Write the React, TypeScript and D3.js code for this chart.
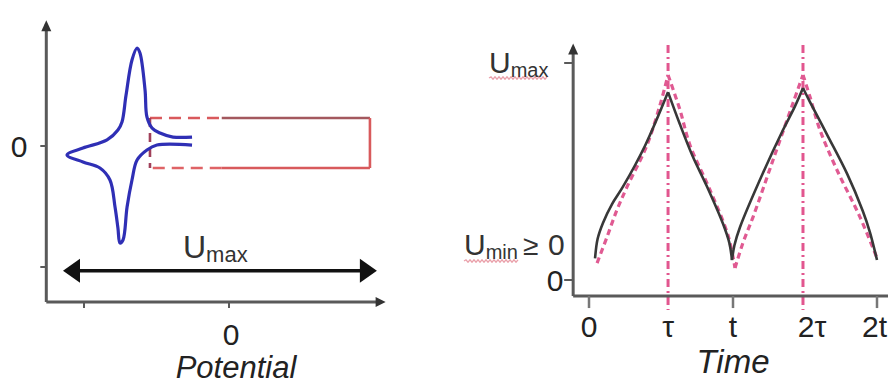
import React from "react";
import * as d3 from "d3";

const W = 888;
const H = 385;

// ---- Left panel: cyclic voltammogram vs. galvanostatic window ----
const cvPotential = [
  -0.255, -0.386, -0.476, -0.531, -0.566, -0.579, -0.614, -0.634, -0.669, -0.71,
  -0.738, -0.766, -0.841, -1.007, -1.117, -1.007, -0.89, -0.821, -0.786, -0.766,
  -0.752, -0.731, -0.703, -0.669, -0.634, -0.566, -0.497, -0.255,
];
const cvCurrent = [
  0.074, 0.074, 0.107, 0.149, 0.24, 0.463, 0.769, 0.81, 0.711, 0.421,
  0.198, 0.132, 0.05, -0.017, -0.074, -0.132, -0.182, -0.281, -0.504, -0.678,
  -0.802, -0.777, -0.504, -0.281, -0.116, -0.033, 0.008, 0.008,
];
// rectangle: left edge, dash/solid split, right edge (potential); top, bottom (current)
const rectPotential = [-0.545, -0.05, 0.972];
const rectCurrent = [0.231, -0.182];
// U_max span arrow
const spanPotential = [-1.145, 1.02];
const spanCurrent = -1.03;
const potentialTicks = [-1, 0];
const potentialTickLabels = ["", "0"];
const currentTicks = [0, -1];
const currentTickLabels = ["0", ""];
const potentialExtent = [-1.26, 1.08];
const currentExtent = [-1.29, 1.04];

// ---- Right panel: voltage vs. time ----
const timeTicks = [0, 0.549, 1, 1.486, 2];
const timeTickLabels = ["0", "τ", "t", "2τ", "2t"];
const voltageTicks = [0, 1];
const timeExtent = [-0.11, 2.09];
const voltageExtent = [-0.074, 1.09];

const measuredT = [
  0.042, 0.06, 0.097, 0.16, 0.236, 0.39, 0.549,
  0.63, 0.72, 0.82, 0.93, 0.975, 0.993,
  1.01, 1.049, 1.208, 1.347, 1.43, 1.486,
  1.535, 1.653, 1.792, 1.9, 1.951, 2.0,
];
const measuredU = [
  0.1, 0.19, 0.263, 0.35, 0.43, 0.62, 0.866,
  0.72, 0.57, 0.43, 0.26, 0.17, 0.092,
  0.16, 0.244, 0.493, 0.691, 0.8, 0.885,
  0.82, 0.67, 0.49, 0.32, 0.22, 0.092,
];
const idealT = [
  0.056, 0.125, 0.194, 0.264, 0.403, 0.493, 0.549,
  0.632, 0.701, 0.84, 0.965, 1.014,
  1.069, 1.139, 1.278, 1.417, 1.486,
  1.535, 1.604, 1.722, 1.882, 2.0,
];
const idealU = [
  0.078, 0.198, 0.323, 0.429, 0.622, 0.806, 0.945,
  0.783, 0.622, 0.415, 0.207, 0.055,
  0.171, 0.29, 0.553, 0.816, 0.945,
  0.843, 0.691, 0.507, 0.29, 0.101,
];
const halfPeriods = [0.549, 1.486];

// scales
const xL = d3.scaleLinear().domain([-1, 0]).range([84, 229]);
const yL = d3.scaleLinear().domain([-1, 0]).range([267, 146]);
const xR = d3.scaleLinear().domain([0, 2]).range([589, 877]);
const yR = d3.scaleLinear().domain([0, 1]).range([280, 63]);

type P = [number, number];

// break a sampled triangle wave into monotone pieces at its turning points
function splitAtTurns(t: number[], u: number[]): P[][] {
  const segs: P[][] = [];
  let cur: P[] = [[t[0], u[0]]];
  for (let i = 1; i < t.length; i++) {
    cur.push([t[i], u[i]]);
    if (i < t.length - 1 && (u[i] - u[i - 1]) * (u[i + 1] - u[i]) < 0) {
      segs.push(cur);
      cur = [[t[i], u[i]]];
    }
  }
  segs.push(cur);
  return segs;
}

const AXIS = "#5a5a5a";
const FONT = "'Liberation Sans', Arial, sans-serif";

function wavy(x0: number, x1: number, y: number): string {
  const p = d3.path();
  p.moveTo(x0, y);
  let up = true;
  for (let x = x0 + 2; x <= x1; x += 2) {
    p.lineTo(x, y + (up ? -1.2 : 1.2));
    up = !up;
  }
  return p.toString();
}

export default function App() {
  const cvLine = d3
    .line<P>()
    .x((d) => xL(d[0]))
    .y((d) => yL(d[1]))
    .curve(d3.curveCatmullRom.alpha(0.5));
  const cvPts: P[] = cvPotential.map((p, i) => [p, cvCurrent[i]]);

  const vLine = d3
    .line<P>()
    .x((d) => xR(d[0]))
    .y((d) => yR(d[1]))
    .curve(d3.curveCatmullRom.alpha(0.5));
  const measuredSegs = splitAtTurns(measuredT, measuredU);
  const idealSegs = splitAtTurns(idealT, idealU);

  const [rx0, rxm, rx1] = rectPotential.map((v) => xL(v));
  const [ry0, ry1] = rectCurrent.map((v) => yL(v));

  const lAxisX = xL(potentialExtent[0]);
  const lAxisY = yL(currentExtent[0]);
  const lTop = yL(currentExtent[1]);
  const lRight = xL(potentialExtent[1]);

  const rAxisX = xR(timeExtent[0]);
  const rAxisY = yR(voltageExtent[0]);
  const rTop = yR(voltageExtent[1]);
  const rRight = xR(timeExtent[1]);

  const sx0 = xL(spanPotential[0]);
  const sx1 = xL(spanPotential[1]);
  const sy = yL(spanCurrent);

  return (
    <svg
      width={W}
      height={H}
      viewBox={`0 0 ${W} ${H}`}
      style={{ position: "absolute", left: 0, top: 0, background: "#fff", display: "block" }}
      fontFamily={FONT}
    >
      <rect width={W} height={H} fill="#fff" />

      {/* ===== left panel ===== */}
      <g>
        {/* galvanostatic window */}
        <g fill="none" strokeWidth={2.6}>
          <line x1={rx0} x2={rxm} y1={ry0} y2={ry0} stroke="#d9595c" strokeDasharray="12 7" />
          <line x1={rxm} x2={rx1} y1={ry0} y2={ry0} stroke="#a3585e" />
          <line x1={rx1} x2={rx1} y1={ry0} y2={ry1} stroke="#d85a5c" />
          <line x1={rx1} x2={rxm} y1={ry1} y2={ry1} stroke="#d85a5c" />
          <line x1={rxm} x2={rx0} y1={ry1} y2={ry1} stroke="#df6366" strokeDasharray="12 7" />
          <line x1={rx0} x2={rx0} y1={ry0} y2={ry1} stroke="#a0405a" strokeDasharray="9 6" />
        </g>
        {/* CV curve */}
        <path d={cvLine(cvPts) ?? ""} fill="none" stroke="#2f2fb5" strokeWidth={3.2} strokeLinejoin="round" />

        {/* axes */}
        <line x1={lAxisX} x2={lAxisX} y1={lTop + 4} y2={lAxisY} stroke={AXIS} strokeWidth={3} />
        <line x1={lAxisX} x2={lRight - 4} y1={lAxisY} y2={lAxisY} stroke={AXIS} strokeWidth={3} />
        <polygon
          points={`${lAxisX},${lTop} ${lAxisX - 5},${lTop + 11} ${lAxisX + 5},${lTop + 11}`}
          fill="#333"
        />
        <polygon
          points={`${lRight},${lAxisY} ${lRight - 10},${lAxisY - 5} ${lRight - 10},${lAxisY + 5}`}
          fill="#333"
        />
        {currentTicks.map((c, i) => (
          <g key={"ct" + i}>
            <line x1={lAxisX - 6} x2={lAxisX} y1={yL(c)} y2={yL(c)} stroke={AXIS} strokeWidth={2} />
            {currentTickLabels[i] && (
              <text x={19} y={yL(c) + 11} fontSize={30} textAnchor="middle" fill="#222">
                {currentTickLabels[i]}
              </text>
            )}
          </g>
        ))}
        {potentialTicks.map((p, i) => (
          <g key={"pt" + i}>
            <line x1={xL(p)} x2={xL(p)} y1={lAxisY} y2={lAxisY + 6} stroke={AXIS} strokeWidth={2} />
            {potentialTickLabels[i] && (
              <text x={xL(p) + 2} y={345} fontSize={30} textAnchor="middle" fill="#222">
                {potentialTickLabels[i]}
              </text>
            )}
          </g>
        ))}
        <text x={236} y={378} fontSize={31} fontStyle="italic" textAnchor="middle" fill="#222">
          Potential
        </text>

        {/* U_max span */}
        <line x1={sx0 + 14} x2={sx1 - 14} y1={sy} y2={sy} stroke="#111" strokeWidth={3.5} />
        <polygon points={`${sx0},${sy} ${sx0 + 17},${sy - 12} ${sx0 + 17},${sy + 12}`} fill="#111" />
        <polygon points={`${sx1},${sy} ${sx1 - 17},${sy - 12} ${sx1 - 17},${sy + 12}`} fill="#111" />
        <text x={183} y={258} fontSize={32} fill="#333">
          U
          <tspan fontSize={22} dy={4}>
            max
          </tspan>
        </text>
      </g>

      {/* ===== right panel ===== */}
      <g>
        {/* half-period markers */}
        {halfPeriods.map((h, i) => (
          <line
            key={"hp" + i}
            x1={xR(h)}
            x2={xR(h)}
            y1={45}
            y2={rAxisY + 14}
            stroke="#e2568f"
            strokeWidth={3}
            strokeDasharray="8 4 2 4"
          />
        ))}
        {/* ideal response */}
        {idealSegs.map((s, i) => (
          <path
            key={"id" + i}
            d={vLine(s) ?? ""}
            fill="none"
            stroke="#e05a92"
            strokeWidth={3.2}
            strokeDasharray="6 4"
          />
        ))}
        {/* measured response */}
        {measuredSegs.map((s, i) => (
          <path key={"ms" + i} d={vLine(s) ?? ""} fill="none" stroke="#383838" strokeWidth={2.6} />
        ))}

        {/* axes */}
        <line x1={rAxisX} x2={rAxisX} y1={rTop + 4} y2={rAxisY} stroke={AXIS} strokeWidth={3} />
        <line x1={rAxisX} x2={rRight} y1={rAxisY} y2={rAxisY} stroke={AXIS} strokeWidth={3} />
        <polygon
          points={`${rAxisX},${rTop} ${rAxisX - 5},${rTop + 11} ${rAxisX + 5},${rTop + 11}`}
          fill="#333"
        />
        {voltageTicks.map((v, i) => (
          <line key={"vt" + i} x1={rAxisX - 9} x2={rAxisX} y1={yR(v)} y2={yR(v)} stroke={AXIS} strokeWidth={2} />
        ))}
        <text x={555} y={yR(0) + 11} fontSize={30} textAnchor="middle" fill="#222">
          0
        </text>
        {timeTicks.map((t, i) => (
          <g key={"tt" + i}>
            <line
              x1={xR(t)}
              x2={xR(t)}
              y1={rAxisY}
              y2={rAxisY + 12}
              stroke={i === 1 || i === 3 ? "none" : "#777"}
              strokeWidth={2.5}
            />
            <text
              x={i === 4 ? W - 1 : xR(t) + (i === 3 ? 9 : 0)}
              y={337}
              fontSize={30}
              textAnchor={i === 4 ? "end" : "middle"}
              fill="#222"
            >
              {timeTickLabels[i]}
            </text>
          </g>
        ))}
        <text x={733} y={373} fontSize={33} fontStyle="italic" textAnchor="middle" fill="#222">
          Time
        </text>

        {/* voltage limit labels */}
        <path d={wavy(489, 548, 78)} fill="none" stroke="#eaa0aa" strokeWidth={1.3} />
        <text x={489} y={73} fontSize={30} fill="#333">
          U
          <tspan fontSize={20} dy={4}>
            max
          </tspan>
        </text>
        <path d={wavy(464, 519, 261)} fill="none" stroke="#eaa0aa" strokeWidth={1.3} />
        <text x={464} y={255} fontSize={30} fill="#333">
          U
          <tspan fontSize={20} dy={4}>
            min
          </tspan>
        </text>
        <text x={523} y={255} fontSize={28} fill="#333">
          ≥
        </text>
        <text x={548} y={255} fontSize={30} fill="#333">
          0
        </text>
      </g>
    </svg>
  );
}
